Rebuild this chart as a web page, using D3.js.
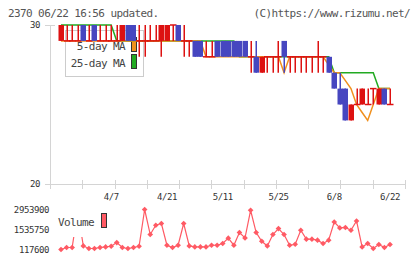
<!DOCTYPE html>
<html>
<head>
<meta charset="utf-8">
<script src="https://cdn.jsdelivr.net/npm/d3@7"></script>
<style>
body { margin:0; background:#fff; }
text { font-family:"DejaVu Sans Mono", monospace; }
</style>
</head>
<body>
<div id="chart"></div>
<script>
// daily candles, oldest first
var openP  = [29,29,29,29,30,29,30,29,29,29,29,29,30,30,29,29,29,29,29,29,30,30,29,29,29,29,28,28,29,29,29,29,29,29,28,28,27,28,28,28,29,28,28,28,28,28,28,28,28,27,26,26,24,25,25,25,26,25,26,25];
var highP  = [30,30,30,30,30,30,30,30,30,30,30,30,30,30,30,30,30,30,30,30,30,30,30,29,29,29,29,29,29,29,29,29,29,29,29,29,28,28,28,29,29,28,28,28,28,28,29,28,28,27,27,26,25,26,26,26,26,26,26,26];
var lowP   = [29,29,29,29,29,29,29,29,29,29,29,29,29,29,28,28,29,29,28,29,29,29,28,28,28,28,28,28,28,28,28,28,28,28,27,27,27,27,27,27,27,27,27,27,27,27,27,27,27,26,25,24,24,25,25,25,25,25,25,25];
var closeP = [30,29,29,29,29,29,29,29,29,29,29,30,29,29,29,29,29,29,30,30,30,29,29,29,28,28,28,28,28,28,28,28,28,28,28,27,28,28,28,28,28,28,28,28,28,28,28,28,27,26,25,24,25,25,26,25,26,26,25,25];
var ma5    = [29,29,29,29,29,29,29,29,29,29,29,29,29,29,29,29,29,29,29,29,29,29,29,29,29,29,28,28,28,28,28,28,28,28,28,28,28,28,28,28,27,28,28,28,28,28,28,28,27.5,27,27,26.5,26,25,24.5,24,25,26,26,26];
var ma25   = [30,30,30,30,30,30,30,30,30,30,29,29,29,29,29,29,29,29,29,29,29,29,29,29,29,29,29,29,29,29,29,29,28,28,28,28,28,28,28,28,28,28,28,28,28,28,28,28,28,27,27,27,27,27,27,27,27,26,26,26];
var volume = [117600,260000,260000,2850000,370000,190000,190000,260000,300000,350000,610000,260000,190000,260000,350000,2953900,1180000,1840000,1960000,420000,260000,420000,1960000,370000,300000,300000,300000,420000,420000,540000,920000,420000,1320000,940000,2900000,1320000,700000,370000,1180000,1600000,1180000,420000,490000,1480000,850000,850000,780000,540000,780000,2070000,1650000,1680000,1480000,2140000,300000,540000,190000,470000,260000,470000];

var dateLabels = ["4/7","4/21","5/11","5/25","6/8","6/22"];
var dateIndex  = [9,19,29,39,49,59];
var priceTicks = [20,30];
var volTicks   = [117600,1535750,2953900];

var W = 420, H = 259;
var red = "#dd1111", blue = "#4646c0", orange = "#f0901e", green = "#22aa22";
var volColor = "#ff5a64", axisColor = "#d4d4d4", textColor = "#333";

var svg = d3.select("#chart").append("svg")
    .attr("width", W).attr("height", H);

var x = d3.scaleLinear().domain([0, 59]).range([61, 390]);
var gridX = d3.scaleLinear().domain([0, 11]).range([50, 405]);
var y = d3.scaleLinear().domain([20, 30]).range([184, 25]);
var yv = d3.scaleLinear().domain([117600, 2953900]).range([249.5, 209.5]);

// header
svg.append("text")
    .attr("x", 8).attr("y", 16.5)
    .attr("font-size", "11px").attr("letter-spacing", "-0.6px")
    .style("fill", "#555")
    .text("2370 06/22 16:56 updated.");
svg.append("text")
    .attr("x", 410).attr("y", 16.5)
    .attr("text-anchor", "end")
    .attr("font-size", "11px").attr("letter-spacing", "-0.6px")
    .style("fill", "#555")
    .text("(C)https://www.rizumu.net/");

// axes
svg.append("line")
    .attr("x1", 50.5).attr("x2", 50.5).attr("y1", 25).attr("y2", 188)
    .style("stroke", axisColor);
svg.append("line")
    .attr("x1", 45).attr("x2", 405).attr("y1", 184.5).attr("y2", 184.5)
    .style("stroke", axisColor);
svg.append("line")
    .attr("x1", 45).attr("x2", 55).attr("y1", 25.5).attr("y2", 25.5)
    .style("stroke", axisColor);

svg.append("g").selectAll("line")
    .data(gridX.ticks(11))
    .enter().append("line")
    .attr("x1", function(d){ return Math.round(gridX(d)) + 0.5; })
    .attr("x2", function(d){ return Math.round(gridX(d)) + 0.5; })
    .attr("y1", 180).attr("y2", 189)
    .style("stroke", axisColor);

svg.append("g").selectAll("text")
    .data(priceTicks)
    .enter().append("text")
    .attr("x", 40)
    .attr("y", function(d){ return y(d) + 3; })
    .attr("text-anchor", "end")
    .attr("font-size", "9px").attr("letter-spacing", "-0.4px")
    .style("fill", textColor)
    .text(function(d){ return d; });

svg.append("g").selectAll("text")
    .data(dateLabels)
    .enter().append("text")
    .attr("x", function(d, i){ return x(dateIndex[i]); })
    .attr("y", 200)
    .attr("text-anchor", "middle")
    .attr("font-size", "9px").attr("letter-spacing", "-0.4px")
    .style("fill", textColor)
    .text(function(d){ return d; });

// price legend (candles draw over it)
var leg = svg.append("g");
leg.append("rect")
    .attr("x", 65.5).attr("y", 30.5).attr("width", 78).attr("height", 46)
    .style("fill", "#fff").style("stroke", "#ccc");
leg.append("text").attr("x", 125).attr("y", 49.5).attr("text-anchor", "end")
    .attr("font-size", "11px").attr("letter-spacing", "-0.6px")
    .style("fill", "#444").text("5-day MA");
leg.append("text").attr("x", 125).attr("y", 66.5).attr("text-anchor", "end")
    .attr("font-size", "11px").attr("letter-spacing", "-0.6px")
    .style("fill", "#444").text("25-day MA");
leg.append("rect").attr("x", 131.5).attr("y", 37.5).attr("width", 5).attr("height", 14)
    .style("fill", orange).style("stroke", "#333");
leg.append("rect").attr("x", 131.5).attr("y", 54.5).attr("width", 5).attr("height", 14)
    .style("fill", green).style("stroke", "#333");

// moving averages behind candles
var maLine = function(arr){
    return d3.line()
        .x(function(d, i){ return x(i); })
        .y(function(d){ return y(d); })(arr);
};
svg.append("path").attr("d", maLine(ma25))
    .style("fill", "none").style("stroke", green).style("stroke-width", 1.5);
svg.append("path").attr("d", maLine(ma5))
    .style("fill", "none").style("stroke", orange).style("stroke-width", 1.5);

// candles
var days = d3.range(openP.length);
var candleColor = function(i){
    if (closeP[i] > openP[i]) return red;
    if (closeP[i] < openP[i]) return blue;
    return red;
};
var candles = svg.append("g").selectAll("g")
    .data(days)
    .enter().append("g");

candles.append("line")
    .attr("x1", function(i){ return Math.round(x(i)) + 0.25; })
    .attr("x2", function(i){ return Math.round(x(i)) + 0.25; })
    .attr("y1", function(i){ return y(highP[i]); })
    .attr("y2", function(i){ return y(lowP[i]); })
    .style("stroke", candleColor)
    .style("stroke-width", 1.5);

candles.filter(function(i){ return openP[i] != closeP[i]; })
    .append("rect")
    .attr("x", function(i){ return Math.round(x(i)) - 2.5; })
    .attr("y", function(i){ return y(Math.max(openP[i], closeP[i])); })
    .attr("width", 5.5)
    .attr("height", function(i){ return Math.abs(y(openP[i]) - y(closeP[i])); })
    .style("fill", candleColor);

candles.filter(function(i){ return openP[i] == closeP[i]; })
    .append("line")
    .attr("x1", function(i){ return Math.round(x(i)) - 3; })
    .attr("x2", function(i){ return Math.round(x(i)) + 3.5; })
    .attr("y1", function(i){ return y(closeP[i]); })
    .attr("y2", function(i){ return y(closeP[i]); })
    .style("stroke", candleColor)
    .style("stroke-width", 1.5);

// volume
svg.append("g").selectAll("text")
    .data(volTicks)
    .enter().append("text")
    .attr("x", 49)
    .attr("y", function(d){ return yv(d) + 3; })
    .attr("text-anchor", "end")
    .attr("font-size", "9px").attr("letter-spacing", "-0.4px")
    .style("fill", textColor)
    .text(function(d){ return d; });

svg.append("path")
    .attr("d", d3.line()
        .x(function(d, i){ return x(i); })
        .y(function(d){ return yv(d); })(volume))
    .style("fill", "none").style("stroke", volColor).style("stroke-width", 1.2);

svg.append("g").selectAll("path")
    .data(volume)
    .enter().append("path")
    .attr("d", d3.symbol().type(d3.symbolSquare).size(16))
    .attr("transform", function(d, i){
        return "translate(" + x(i) + "," + yv(d) + ") rotate(45)";
    })
    .style("fill", volColor);

// volume legend covers the line
var vleg = svg.append("g");
vleg.append("rect")
    .attr("x", 55).attr("y", 208).attr("width", 57).attr("height", 29)
    .style("fill", "#fff");
vleg.append("text").attr("x", 58).attr("y", 226)
    .attr("font-size", "11px").attr("letter-spacing", "-0.6px")
    .style("fill", "#444").text("Volume");
vleg.append("rect").attr("x", 101.5).attr("y", 213.5).attr("width", 5).attr("height", 14)
    .style("fill", volColor).style("stroke", "#333");
</script>
</body>
</html>
